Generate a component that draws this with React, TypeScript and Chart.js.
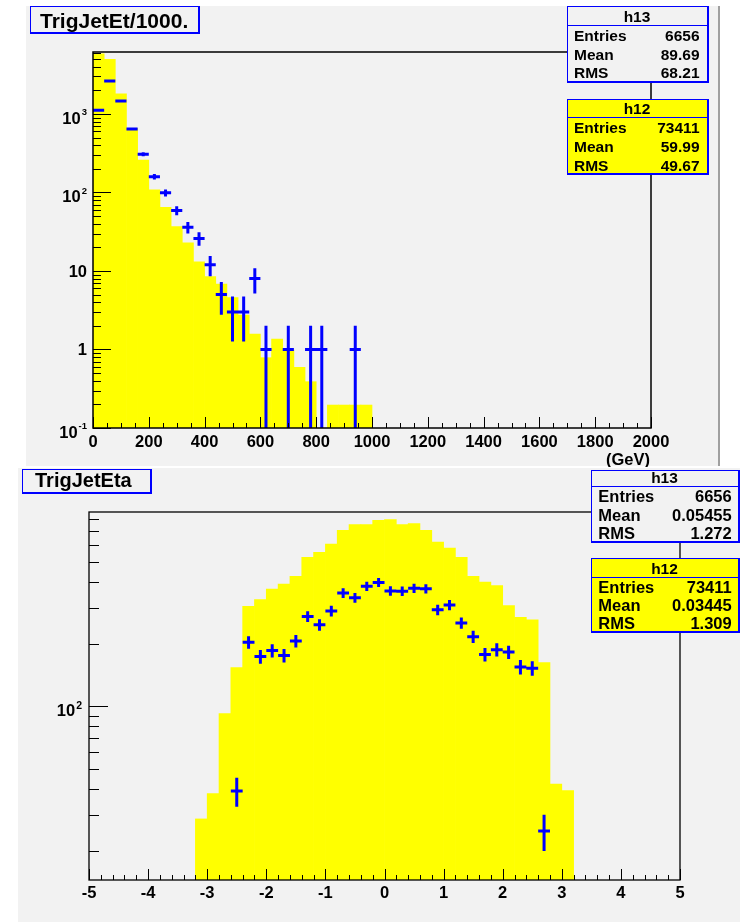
import React, { useEffect, useRef } from "react";
import { Chart, registerables } from "chart.js";

Chart.register(...registerables);

const FONT_FAMILY = '"Liberation Sans", Arial, Helvetica, sans-serif';
const PAD_GRAY = "#f2f2f2";
const PAD_EDGE = "#a0a0a0";
const HIST_YELLOW = "#ffff00";
const MARK_BLUE = "#0000ff";

// ---------- TrigJetEt/1000. : 40 GeV bins ----------
const ET_BIN_WIDTH = 40;
const ET_H12_CENTERS = [20, 60, 100, 140, 180, 220, 260, 300, 340, 380, 420, 460, 500, 540, 580, 620, 660, 700, 740, 780, 820, 860, 900, 940, 980];
const ET_H12_VALUES = [5808, 4977, 1798, 658, 259, 108, 64.8, 36.7, 22.9, 13.1, 8.46, 6.83, 4.57, 2.75, 1.57, 0.786, 1.36, 0.986, 0.593, 0.389, 0, 0.196, 0.196, 0.196, 0.196];
const ET_H13_CENTERS = [20, 60, 100, 140, 180, 220, 260, 300, 340, 380, 420, 460, 500, 540, 580, 620, 700, 780, 820, 940];
const ET_H13_COUNTS = [1114, 2630, 1465, 644, 307, 159, 99, 59, 36, 26, 12, 5, 3, 3, 8, 1, 1, 1, 1, 1];
const ET_X_RANGE = [0, 2000];
const ET_Y_RANGE = [0.1, 6150];
const ET_X_TICKS = [0, 200, 400, 600, 800, 1000, 1200, 1400, 1600, 1800, 2000];
const ET_X_MINOR_STEP = 50;
const ET_Y_TICKS = [0.1, 1, 10, 100, 1000];
const ET_Y_LABELS = [["10", "-1"], ["1", ""], ["10", ""], ["10", "2"], ["10", "3"]];
const ET_H13_STATS = ["6656", "89.69", "68.21"];
const ET_H12_STATS = ["73411", "59.99", "49.67"];

// ---------- TrigJetEta : 0.2 bins ----------
const ETA_BIN_WIDTH = 0.2;
const ETA_H12_CENTERS = [-3.1, -2.9, -2.7, -2.5, -2.3, -2.1, -1.9, -1.7, -1.5, -1.3, -1.1, -0.9, -0.7, -0.5, -0.3, -0.1, 0.1, 0.3, 0.5, 0.7, 0.9, 1.1, 1.3, 1.5, 1.7, 1.9, 2.1, 2.3, 2.5, 2.7, 2.9, 3.1];
const ETA_H12_VALUES = [28.6, 37.9, 92.2, 154, 304, 328, 369, 390, 425, 525, 555, 609, 708, 755, 755, 792, 798, 755, 763, 708, 622, 582, 525, 425, 399, 383, 307, 269, 262, 163, 42.2, 39.2];
const ETA_H13_CENTERS = [-2.5, -2.3, -2.1, -1.9, -1.7, -1.5, -1.3, -1.1, -0.9, -0.7, -0.5, -0.3, -0.1, 0.1, 0.3, 0.5, 0.7, 0.9, 1.1, 1.3, 1.5, 1.7, 1.9, 2.1, 2.3, 2.5, 2.7];
const ETA_H13_COUNTS = [39, 204, 174, 186, 176, 207, 272, 248, 289, 353, 335, 380, 397, 361, 360, 372, 370, 293, 309, 253, 217, 178, 188, 183, 155, 153, 25];
const ETA_X_RANGE = [-5, 5];
const ETA_Y_RANGE = [14.5, 869];
const ETA_X_TICKS = [-5, -4, -3, -2, -1, 0, 1, 2, 3, 4, 5];
const ETA_X_MINOR_STEP = 0.2;
const ETA_Y_TICKS = [100];
const ETA_Y_LABELS = [["10", "2"]];
const ETA_H13_STATS = ["6656", "0.05455", "1.272"];
const ETA_H12_STATS = ["73411", "0.03445", "1.309"];

const STAT_LABELS = ["Entries", "Mean", "RMS"];

const font = (size: number) => `bold ${size}px ${FONT_FAMILY}`;

type StatBox = {
  name: string; values: string[]; fill: string;
  x0: number; y0: number; x1: number; y1: number;
  sep: number; head: number; rows: number[];
  labelX: number; valueX: number; headSize: number; rowSize: number;
};

type Decor = {
  pad: number[]; padEdge?: number[];
  frameWidth: number;
  title: { text: string; box: number[]; x: number; base: number; size: number };
  xMajor: number[]; xMinorStep: number; xRange: number[]; xMajorLen: number; xMinorLen: number;
  xLabelBase: number; labelSize: number;
  yMajor: number[]; yLabels: string[][]; yRange: number[]; yMajorLen: number; yMinorLen: number;
  yLabelRight: number; supSize: number; expOffset: number; plainOffset: number; supRaise: number;
  unit?: { text: string; x: number; base: number };
  stats: StatBox[];
};

type Panel = {
  binWidth: number;
  barCenters: number[]; barValues: number[];
  pointCenters: number[]; pointCounts: number[];
  xRange: number[]; yRange: number[]; xStep: number;
  padding: { left: number; top: number; right: number; bottom: number };
  decor: Decor;
};

// blue crosses: horizontal arm = bin width, vertical arm = Poisson error
function crossSegments(centers: number[], counts: number[], binWidth: number, yMin: number) {
  const pts: { x: number; y: number | null }[] = [];
  centers.forEach((c, i) => {
    const n = counts[i];
    const err = Math.sqrt(n);
    pts.push({ x: c - binWidth / 2, y: n }, { x: c + binWidth / 2, y: n }, { x: c, y: null });
    pts.push({ x: c, y: Math.max(n - err, yMin) }, { x: c, y: n + err }, { x: c, y: null });
  });
  return pts;
}

function shadowBox(ctx: CanvasRenderingContext2D, x0: number, y0: number, x1: number, y1: number, fill: string) {
  ctx.fillStyle = MARK_BLUE;
  ctx.fillRect(x0, y0, x1 - x0, y1 - y0);
  ctx.fillStyle = fill;
  ctx.fillRect(x0 + 1, y0 + 1, x1 - x0 - 3, y1 - y0 - 3);
}

function drawBackground(chart: Chart, d: Decor) {
  const ctx = chart.ctx;
  ctx.save();
  ctx.fillStyle = "#ffffff";
  ctx.fillRect(0, 0, chart.width, chart.height);
  ctx.fillStyle = PAD_GRAY;
  ctx.fillRect(d.pad[0], d.pad[1], d.pad[2], d.pad[3]);
  if (d.padEdge) {
    ctx.fillStyle = PAD_EDGE;
    ctx.fillRect(d.padEdge[0], d.padEdge[1], d.padEdge[2], d.padEdge[3]);
  }
  ctx.restore();
}

function drawDecor(chart: Chart, d: Decor) {
  const ctx = chart.ctx;
  const { left, right, top, bottom } = chart.chartArea;
  const xs = chart.scales.x;
  const ys = chart.scales.y;
  const crisp = (v: number) => Math.round(v) + 0.5;
  ctx.save();

  // tick marks (drawn inside the frame, over the histogram)
  ctx.strokeStyle = "#000000";
  ctx.lineWidth = 1;
  ctx.beginPath();
  for (const v of d.xMajor) {
    const px = crisp(xs.getPixelForValue(v));
    ctx.moveTo(px, bottom);
    ctx.lineTo(px, bottom - d.xMajorLen);
  }
  const nMinor = Math.round((d.xRange[1] - d.xRange[0]) / d.xMinorStep);
  for (let i = 0; i <= nMinor; i++) {
    const px = crisp(xs.getPixelForValue(d.xRange[0] + i * d.xMinorStep));
    ctx.moveTo(px, bottom);
    ctx.lineTo(px, bottom - d.xMinorLen);
  }
  for (const v of d.yMajor) {
    const py = crisp(ys.getPixelForValue(v));
    ctx.moveTo(left, py);
    ctx.lineTo(left + d.yMajorLen, py);
  }
  const e0 = Math.floor(Math.log10(d.yRange[0]));
  const e1 = Math.ceil(Math.log10(d.yRange[1]));
  for (let e = e0; e <= e1; e++) {
    for (let m = 2; m <= 9; m++) {
      const v = m * Math.pow(10, e);
      if (v <= d.yRange[0] || v >= d.yRange[1]) continue;
      const py = crisp(ys.getPixelForValue(v));
      ctx.moveTo(left, py);
      ctx.lineTo(left + d.yMinorLen, py);
    }
  }
  ctx.stroke();

  // frame
  ctx.lineWidth = d.frameWidth;
  ctx.strokeStyle = "#000000";
  ctx.strokeRect(left, top, right - left, bottom - top);

  // axis labels
  ctx.fillStyle = "#000000";
  ctx.textBaseline = "alphabetic";
  ctx.font = font(d.labelSize);
  ctx.textAlign = "center";
  for (const v of d.xMajor) {
    ctx.fillText(String(v), xs.getPixelForValue(v), d.xLabelBase);
  }
  d.yMajor.forEach((v, i) => {
    const [base, exp] = d.yLabels[i];
    const py = ys.getPixelForValue(v);
    ctx.textAlign = "right";
    if (exp) {
      ctx.font = font(d.supSize);
      const w = ctx.measureText(exp).width;
      ctx.fillText(exp, d.yLabelRight, py + d.expOffset - d.supRaise);
      ctx.font = font(d.labelSize);
      ctx.fillText(base, d.yLabelRight - w - 1, py + d.expOffset);
    } else {
      ctx.font = font(d.labelSize);
      ctx.fillText(base, d.yLabelRight, py + d.plainOffset);
    }
  });
  if (d.unit) {
    ctx.font = font(d.labelSize);
    ctx.textAlign = "right";
    ctx.fillText(d.unit.text, d.unit.x, d.unit.base);
  }

  // title box
  const t = d.title;
  shadowBox(ctx, t.box[0], t.box[1], t.box[2], t.box[3], PAD_GRAY);
  ctx.fillStyle = "#000000";
  ctx.font = font(t.size);
  ctx.textAlign = "left";
  ctx.fillText(t.text, t.x, t.base);

  // statistics boxes
  for (const s of d.stats) {
    shadowBox(ctx, s.x0, s.y0, s.x1, s.y1, s.fill);
    ctx.fillStyle = MARK_BLUE;
    ctx.fillRect(s.x0 + 1, s.sep, s.x1 - s.x0 - 3, 1);
    ctx.fillStyle = "#000000";
    ctx.font = font(s.headSize);
    ctx.textAlign = "center";
    ctx.fillText(s.name, (s.x0 + s.x1 - 2) / 2, s.head);
    ctx.font = font(s.rowSize);
    STAT_LABELS.forEach((label, i) => {
      ctx.textAlign = "left";
      ctx.fillText(label, s.labelX, s.rows[i]);
      ctx.textAlign = "right";
      ctx.fillText(s.values[i], s.valueX, s.rows[i]);
    });
  }
  ctx.restore();
}

function makeChart(canvas: HTMLCanvasElement, p: Panel) {
  const decorPlugin = {
    id: "padDecor",
    beforeDraw: (chart: Chart) => drawBackground(chart, p.decor),
    afterDraw: (chart: Chart) => drawDecor(chart, p.decor),
  };
  return new Chart(canvas, {
    type: "bar",
    data: {
      datasets: [
        {
          type: "line",
          label: "h13",
          data: crossSegments(p.pointCenters, p.pointCounts, p.binWidth, p.yRange[0]),
          borderColor: MARK_BLUE,
          borderWidth: 3,
          borderCapStyle: "butt",
          pointRadius: 0,
          pointHoverRadius: 0,
          spanGaps: false,
          fill: false,
          tension: 0,
          order: 0,
        } as any,
        {
          type: "bar",
          label: "h12",
          data: p.barCenters.map((c, i) => ({ x: c, y: p.barValues[i] > 0 ? p.barValues[i] : null })),
          backgroundColor: HIST_YELLOW,
          borderWidth: 0,
          barPercentage: 1,
          categoryPercentage: 1,
          order: 1,
        } as any,
      ],
    },
    options: {
      responsive: false,
      animation: false,
      devicePixelRatio: 1,
      events: [],
      layout: { padding: p.padding },
      plugins: {
        legend: { display: false },
        tooltip: { enabled: false },
        title: { display: false },
      },
      scales: {
        x: {
          type: "linear",
          min: p.xRange[0],
          max: p.xRange[1],
          offset: false,
          display: false,
          ticks: { stepSize: p.xStep },
        },
        y: {
          type: "logarithmic",
          min: p.yRange[0],
          max: p.yRange[1],
          display: false,
        },
      },
    } as any,
    plugins: [decorPlugin],
  });
}

const ET_PANEL: Panel = {
  binWidth: ET_BIN_WIDTH,
  barCenters: ET_H12_CENTERS,
  barValues: ET_H12_VALUES,
  pointCenters: ET_H13_CENTERS,
  pointCounts: ET_H13_COUNTS,
  xRange: ET_X_RANGE,
  yRange: ET_Y_RANGE,
  xStep: 200,
  padding: { left: 93, top: 52, right: 89, bottom: 39 },
  decor: {
    pad: [26, 6, 692, 460],
    padEdge: [718, 6, 2, 460],
    frameWidth: 1.5,
    title: { text: "TrigJetEt/1000.", box: [30, 6, 200, 34], x: 40, base: 27.5, size: 21 },
    xMajor: ET_X_TICKS, xMinorStep: ET_X_MINOR_STEP, xRange: ET_X_RANGE,
    xMajorLen: 11, xMinorLen: 5, xLabelBase: 446.5, labelSize: 16.5,
    yMajor: ET_Y_TICKS, yLabels: ET_Y_LABELS, yRange: ET_Y_RANGE,
    yMajorLen: 18, yMinorLen: 8, yLabelRight: 87, supSize: 9.5,
    expOffset: 10, plainOffset: 5.7, supRaise: 8.7,
    unit: { text: "(GeV)", x: 650, base: 465 },
    stats: [
      {
        name: "h13", values: ET_H13_STATS, fill: PAD_GRAY,
        x0: 567, y0: 6, x1: 709, y1: 83, sep: 25, head: 21.6, rows: [40.7, 59.5, 78.3],
        labelX: 574, valueX: 699.5, headSize: 15.5, rowSize: 15.5,
      },
      {
        name: "h12", values: ET_H12_STATS, fill: HIST_YELLOW,
        x0: 567, y0: 99, x1: 709, y1: 175, sep: 117, head: 114.3, rows: [133.3, 152.3, 171],
        labelX: 574, valueX: 699.5, headSize: 15.5, rowSize: 15.5,
      },
    ],
  },
};

const ETA_PANEL: Panel = {
  binWidth: ETA_BIN_WIDTH,
  barCenters: ETA_H12_CENTERS,
  barValues: ETA_H12_VALUES,
  pointCenters: ETA_H13_CENTERS,
  pointCounts: ETA_H13_COUNTS,
  xRange: ETA_X_RANGE,
  yRange: ETA_Y_RANGE,
  xStep: 1,
  padding: { left: 89, top: 45, right: 60, bottom: 42 },
  decor: {
    pad: [18, 1, 722, 454],
    frameWidth: 1.3,
    title: { text: "TrigJetEta", box: [22, 2, 152, 27], x: 35, base: 19.7, size: 20 },
    xMajor: ETA_X_TICKS, xMinorStep: ETA_X_MINOR_STEP, xRange: ETA_X_RANGE,
    xMajorLen: 11, xMinorLen: 5, xLabelBase: 431.3, labelSize: 16.5,
    yMajor: ETA_Y_TICKS, yLabels: ETA_Y_LABELS, yRange: ETA_Y_RANGE,
    yMajorLen: 19, yMinorLen: 10, yLabelRight: 82, supSize: 10.5,
    expOffset: 10, plainOffset: 5.7, supRaise: 7,
    stats: [
      {
        name: "h13", values: ETA_H13_STATS, fill: PAD_GRAY,
        x0: 591, y0: 3, x1: 740, y1: 76, sep: 19, head: 16.3, rows: [35.3, 54, 72.3],
        labelX: 598.3, valueX: 731.7, headSize: 15.5, rowSize: 16.5,
      },
      {
        name: "h12", values: ETA_H12_STATS, fill: HIST_YELLOW,
        x0: 591, y0: 91, x1: 740, y1: 166, sep: 110, head: 107, rows: [125.7, 144, 162.3],
        labelX: 598.3, valueX: 731.7, headSize: 15.5, rowSize: 16.5,
      },
    ],
  },
};

export default function App() {
  const topRef = useRef<HTMLCanvasElement>(null);
  const bottomRef = useRef<HTMLCanvasElement>(null);

  useEffect(() => {
    const charts = [makeChart(topRef.current!, ET_PANEL), makeChart(bottomRef.current!, ETA_PANEL)];
    return () => charts.forEach((c) => c.destroy());
  }, []);

  return (
    <div style={{ position: "absolute", left: 0, top: 0, width: 740, height: 922, background: "#ffffff", overflow: "hidden" }}>
      <canvas ref={topRef} width={740} height={467} style={{ position: "absolute", left: 0, top: 0, width: 740, height: 467 }} />
      <canvas ref={bottomRef} width={740} height={455} style={{ position: "absolute", left: 0, top: 467, width: 740, height: 455 }} />
    </div>
  );
}
